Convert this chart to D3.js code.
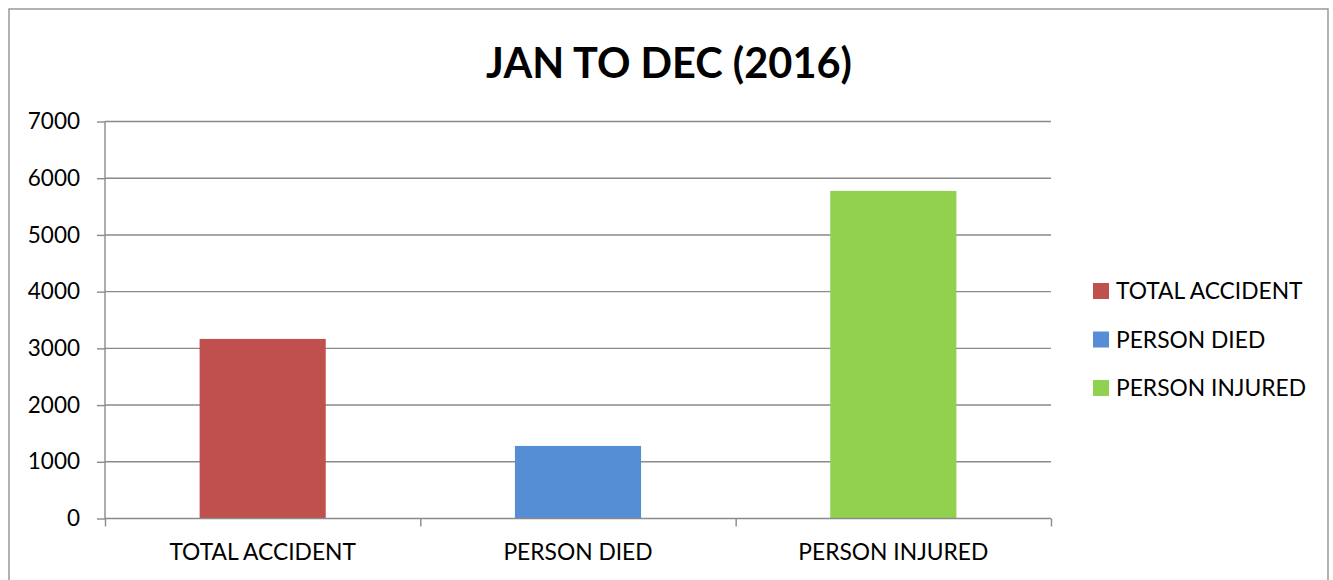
<!DOCTYPE html>
<html>
<head>
<meta charset="utf-8">
<script src="https://cdn.jsdelivr.net/npm/d3@7"></script>
<style>
  body { margin: 0; background: #fff; overflow: hidden; }
  text { font-family: Lato, "Open Sans", sans-serif; fill: #000; }
</style>
</head>
<body>
<div></div>
<script>
const categories = ["TOTAL ACCIDENT", "PERSON DIED", "PERSON INJURED"];
const values = [3166, 1279, 5776];
const colors = ["#C0504D", "#558ED5", "#92D050"];
const yTicks = [0, 1000, 2000, 3000, 4000, 5000, 6000, 7000];
const title = "JAN TO DEC (2016)";

const width = 1333, height = 580;
const margin = { top: 121.5, left: 105, right: 282, bottom: 61.5 };
const innerWidth = width - margin.left - margin.right;
const innerHeight = height - margin.top - margin.bottom;

const svg = d3.select('div').append('svg').attr('width', width).attr('height', height)
  .style('display', 'block');

// chart frame (bottom edge falls outside the picture, as in the source)
svg.append('path').attr('d', 'M9,580V9H1328V580')
  .attr('fill', 'none').attr('stroke', '#999').attr('stroke-width', 1.5);

svg.append('text').attr('x', 669).attr('y', 78).attr('text-anchor', 'middle')
  .style('font-size', '41.5px').style('font-weight', 'bold').text(title);

const chart = svg.append('g').attr('transform', `translate(${margin.left},${margin.top})`);

const xScale = d3.scaleBand().domain(categories).range([0, innerWidth]).paddingInner(0.6).paddingOuter(0.3);
const xEdges = d3.scaleLinear().domain([0, categories.length]).range([0, innerWidth]);
const yScale = d3.scaleLinear().domain([0, 7000]).range([innerHeight, 0]);

// gridlines
chart.append('g').selectAll('line').data(yTicks.slice(1)).enter().append('line')
  .attr('x1', 0).attr('x2', innerWidth)
  .attr('y1', d => yScale(d)).attr('y2', d => yScale(d))
  .attr('stroke', '#8a8a8a').attr('stroke-width', 1.4);

// bars
chart.selectAll('.bar').data(values).enter().append('rect')
  .attr('class', 'bar')
  .attr('x', (d, i) => xScale(categories[i]))
  .attr('width', xScale.bandwidth())
  .attr('y', d => yScale(d))
  .attr('height', d => innerHeight - yScale(d))
  .attr('fill', (d, i) => colors[i]);

// y axis
const yAxis = d3.axisLeft(yScale).tickValues(yTicks).tickSize(8).tickPadding(17).tickFormat(d3.format('d'));
const yG = chart.append('g').call(yAxis);
yG.select('.domain').attr('d', `M0,0V${innerHeight}`);
yG.selectAll('path, line').attr('stroke', '#8a8a8a').attr('stroke-width', 1.4);
yG.selectAll('text').style('font-size', '22.5px').style('font-family', 'Lato').attr('fill', '#000');

// x axis
const xAxis = d3.axisBottom(xEdges).tickValues(d3.range(categories.length + 1)).tickSize(8).tickFormat('');
const xG = chart.append('g').attr('transform', `translate(0,${innerHeight})`).call(xAxis);
xG.select('.domain').attr('d', `M0,0H${innerWidth}`);
xG.selectAll('path, line').attr('stroke', '#8a8a8a').attr('stroke-width', 1.4);

chart.append('g').selectAll('text').data(categories).enter().append('text')
  .attr('x', d => xScale(d) + xScale.bandwidth() / 2)
  .attr('y', innerHeight + 41)
  .attr('text-anchor', 'middle')
  .style('font-size', '22.8px')
  .text(d => d);

// legend
const legend = svg.append('g').attr('transform', 'translate(1093,291)');
const items = legend.selectAll('g').data(categories).enter().append('g')
  .attr('transform', (d, i) => `translate(0,${i * 48.5})`);
items.append('rect').attr('x', 0).attr('y', -8).attr('width', 16).attr('height', 16)
  .attr('fill', (d, i) => colors[i]);
items.append('text').attr('x', 23).attr('y', 8).style('font-size', '22.8px').text(d => d);
</script>
</body>
</html>
